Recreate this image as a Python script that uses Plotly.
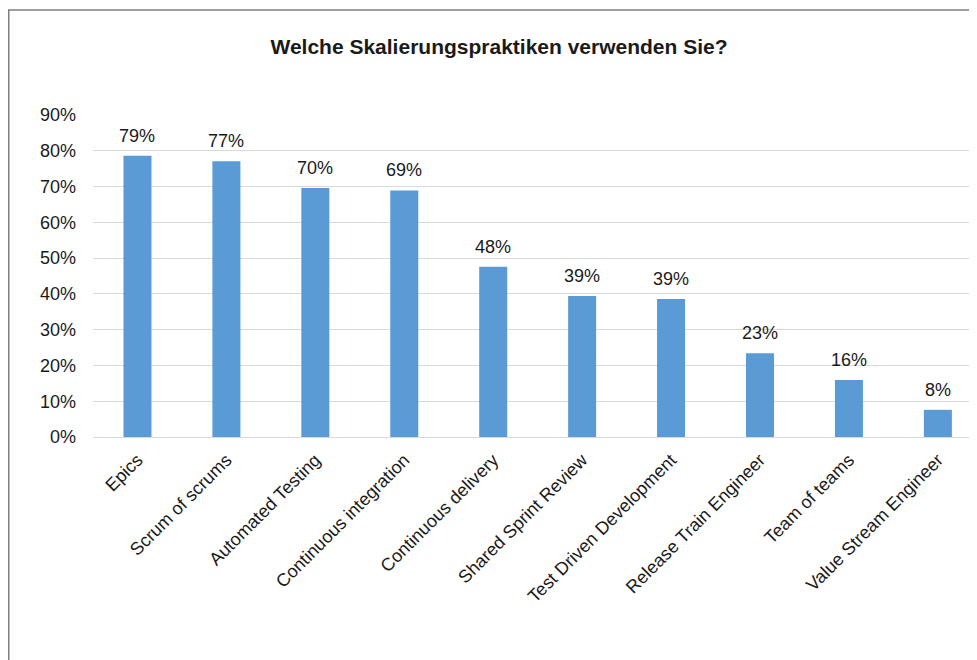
import plotly.graph_objects as go

categories = ["Epics", "Scrum of scrums", "Automated Testing", "Continuous integration",
              "Continuous delivery", "Shared Sprint Review", "Test Driven Development",
              "Release Train Engineer", "Team of teams", "Value Stream Engineer"]
values = [0.786, 0.771, 0.696, 0.689, 0.476, 0.394, 0.386, 0.234, 0.159, 0.076]
tick_vals = [0, 0.1, 0.2, 0.3, 0.4, 0.5, 0.6, 0.7, 0.8, 0.9]
tick_text = ["0%", "10%", "20%", "30%", "40%", "50%", "60%", "70%", "80%", "90%"]
title_text = "Welche Skalierungspraktiken verwenden Sie?"

FONT = "Liberation Sans, Arial, sans-serif"
TXT = "#1a1a1a"
FS = 18

W, H = 969, 652
L, T, B = 85, 107, 223
PW = W - L
PH = H - T - B

fig = go.Figure(go.Bar(
    x=categories, y=values, width=0.315,
    marker=dict(color="#5B9BD5", line=dict(width=0)),
    cliponaxis=False,
))

for c, v in zip(categories, values):
    fig.add_annotation(x=c, y=v, text=f"{round(v * 100)}%", showarrow=False,
                       yanchor="bottom", yshift=8,
                       font=dict(family=FONT, size=FS, color=TXT))

fig.update_layout(
    width=W, height=H,
    margin=dict(l=L, r=0, t=T, b=B),
    paper_bgcolor="white", plot_bgcolor="white",
    showlegend=False,
    title=dict(text="<b>" + title_text + "</b>", x=491 / W, xanchor="center",
               y=1 - 39 / H, yanchor="middle",
               font=dict(family=FONT, size=21, color=TXT)),
    xaxis=dict(range=[-0.5, 9.44], tickangle=-45, showgrid=False, showline=False,
               ticks="", ticklabelstandoff=8,
               tickfont=dict(family=FONT, size=FS, color=TXT)),
    yaxis=dict(range=[0, 0.9], tickvals=tick_vals, ticktext=tick_text,
               showgrid=True, gridcolor="#D9D9D9", gridwidth=1.3,
               zeroline=True, zerolinecolor="#D9D9D9", zerolinewidth=1.3,
               ticks="", ticklabelstandoff=16,
               tickfont=dict(family=FONT, size=FS, color=TXT)),
    shapes=[dict(type="rect", xref="paper", yref="paper",
                 x0=(0.75 - L) / PW, x1=1.2, y0=-1, y1=1 + (T - 2) / PH,
                 line=dict(color="#7f7f7f", width=1.5), fillcolor="rgba(0,0,0,0)",
                 layer="below")],
)

fig.write_html("out.html")
